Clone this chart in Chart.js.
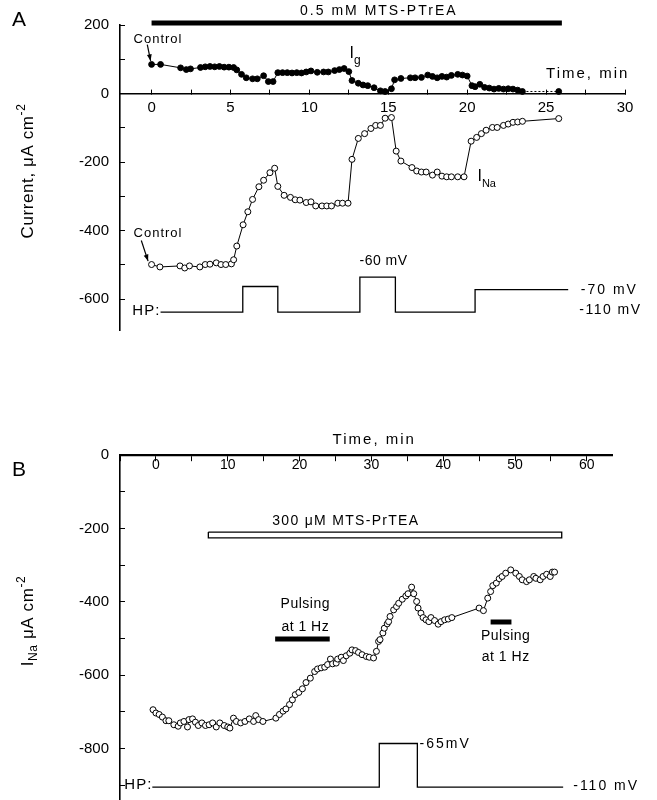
<!DOCTYPE html>
<html>
<head>
<meta charset="utf-8">
<script src="https://cdn.jsdelivr.net/npm/chart.js@4.4.1/dist/chart.umd.min.js"></script>
<style>
body{margin:0;background:#fff;overflow:hidden}
#wrap{position:relative;width:657px;height:800px;overflow:hidden}
canvas{position:absolute;left:0}
</style>
</head>
<body>
<div id="wrap">
<canvas id="panelA" width="657" height="400" style="top:0"></canvas>
<canvas id="panelB" width="657" height="440" style="top:400px"></canvas>
</div>
<script>
const FONT = '"Liberation Sans", Arial, Helvetica, sans-serif';

// panel A - gating current (filled) and INa (open), time in min
const igTime = [0, 0.57, 1.84, 2.2, 2.47, 3.1, 3.4, 3.7, 4.0, 4.3, 4.6, 4.9, 5.2, 5.4, 5.7, 6.0, 6.4, 6.7, 7.1, 7.4,
  7.7, 8.0, 8.3, 8.6, 8.9, 9.2, 9.5, 9.8, 10.1, 10.5, 10.9, 11.2, 11.6, 11.9, 12.2, 12.5, 12.7, 13.1, 13.4, 13.7,
  14.1, 14.5, 14.8, 15.2, 15.4, 15.8, 16.4, 16.7, 17.1, 17.5, 17.8, 18.1, 18.4, 18.7, 19.0, 19.4, 19.7, 20.0, 20.3, 20.5,
  20.8, 21.1, 21.4, 21.7, 22.0, 22.3, 22.6, 22.9, 23.2, 23.5, 25.8];
const igCurrent = [85, 85, 75, 70, 72, 76, 78, 79, 78, 79, 77, 77, 76, 69, 56, 46, 43, 43, 52, 35,
  35, 61, 61, 61, 60, 61, 60, 63, 66, 62, 63, 63, 67, 70, 73, 64, 38, 30, 25, 23,
  17, 8, 6, 14, 40, 44, 46, 46, 47, 54, 50, 46, 50, 48, 53, 56, 54, 51, 23, 20,
  27, 18, 16, 13, 15, 13, 14, 13, 10, 6, 6];

const naTimeA = [0, 0.53, 1.8, 2.1, 2.4, 3.06, 3.4, 3.7, 4.1, 4.4, 4.7, 5.06, 5.2, 5.4, 5.8, 6.1, 6.4, 6.8, 7.1, 7.5,
  7.8, 8.0, 8.4, 8.8, 9.1, 9.4, 9.8, 10.1, 10.4, 10.8, 11.1, 11.4, 11.8, 12.1, 12.45, 12.7, 13.1, 13.5, 13.9, 14.2,
  14.5, 14.8, 15.2, 15.5, 15.8, 16.5, 16.8, 17.1, 17.4, 17.8, 18.1, 18.4, 18.7, 19.0, 19.4, 19.8, 20.25, 20.6, 20.9, 21.2,
  21.6, 21.9, 22.3, 22.6, 22.9, 23.2, 23.5, 25.8];
const naCurrentA = [-499, -506, -503, -509, -503, -506, -499, -498, -494, -499, -499, -497, -485, -445, -383, -345, -309, -272, -253, -231,
  -218, -271, -297, -303, -310, -311, -318, -316, -328, -328, -328, -328, -320, -320, -320, -192, -131, -117, -102, -93,
  -93, -72, -70, -168, -197, -216, -226, -229, -229, -238, -229, -241, -243, -243, -243, -243, -139, -128, -117, -107,
  -99, -99, -93, -89, -84, -83, -81, -73];

// holding potential trace (drawn on the current axis)
const hpTimeA = [0.57, 5.78, 8.0, 13.2, 15.45, 20.5, 26.4];
const hpLevelA = [-638, -563, -638, -536, -638, -572, -572];
const mtsBarA = [0, 26, 206]; // from, to, level

const xTicksA = [0, 2.5, 5, 7.5, 10, 12.5, 15, 17.5, 20, 22.5, 25, 27.5, 30];
const yTicksA = [200, 100, 0, -100, -200, -300, -400, -500, -600];

// panel B
const naTimeB = [-0.4, 0, 0.45, 0.9, 1.4, 1.8, 2.5, 3.1, 3.4, 3.9,
  4.4, 4.6, 5.1, 5.5, 5.9, 6.4, 6.9, 7.4, 7.9, 8.4,
  8.9, 9.5, 10.0, 10.3, 10.8, 11.2, 11.8, 12.4, 13.0, 13.6,
  13.9, 14.3, 14.9, 16.7, 17.2, 17.7, 18.1, 18.6, 19.0, 19.4,
  19.9, 20.4, 20.9, 21.5, 22.1, 22.5, 23.0, 23.5, 23.9, 24.3,
  24.6, 25.1, 25.3, 25.8, 26.1, 26.5, 27.0, 27.3, 27.8, 28.2,
  28.7, 29.3, 29.7, 30.3, 30.7, 31.0, 31.2, 31.6, 31.8, 32.2,
  32.4, 32.6, 33.1, 33.5, 33.8, 34.3, 34.8, 35.1, 35.6, 35.9,
  36.3, 36.5, 36.9, 37.2, 37.6, 38.0, 38.3, 38.8, 39.3, 39.7,
  40.2, 40.7, 41.2, 45.0, 45.6, 46.2, 46.6, 46.9, 47.4, 47.8,
  48.2, 48.7, 49.4, 50.1, 50.6, 51.0, 51.6, 52.0, 52.6, 52.9,
  53.5, 53.9, 54.4, 54.9, 55.2, 55.5];
const naCurrentB = [-694, -703, -707, -714, -724, -724, -735, -739, -730, -726,
  -741, -721, -719, -728, -737, -730, -737, -735, -730, -741,
  -730, -737, -741, -744, -717, -726, -730, -726, -719, -726,
  -710, -721, -726, -717, -707, -698, -692, -680, -667, -653,
  -647, -637, -620, -608, -590, -583, -580, -578, -571, -556,
  -569, -567, -556, -551, -560, -547, -540, -531, -533, -538,
  -544, -549, -551, -553, -535, -508, -503, -485, -472, -460,
  -454, -440, -422, -413, -404, -393, -384, -378, -360, -378,
  -399, -417, -431, -443, -449, -454, -443, -451, -461, -454,
  -449, -447, -443, -417, -424, -390, -372, -356, -349, -337,
  -331, -322, -313, -322, -331, -340, -345, -340, -331, -336,
  -340, -331, -325, -331, -319, -319];

const hpTimeB = [-0.5, 31.1, 36.4, 56.7];
const hpLevelB = [-905, -786, -905, -905];
const mtsBoxB = [7.3, 56.5, -210, -226]; // from, to, top, bottom
const pulseBarsB = [[16.6, 24.2, -501], [46.6, 49.5, -455]];

const xTicksB = [-5, 0, 5, 10, 15, 20, 25, 30, 35, 40, 45, 50, 55, 60];
const yTicksB = [0, -100, -200, -300, -400, -500, -600, -700, -800, -900];

const pts = (xs, ys) => xs.map((x, i) => ({x: x, y: ys[i]}));

function drawRich(ctx, x, y, parts, align) {
  let w = 0;
  parts.forEach(p => { ctx.font = p[1] + 'px ' + FONT; w += ctx.measureText(p[0]).width; });
  let cx = align === 'center' ? x - w / 2 : (align === 'right' ? x - w : x);
  parts.forEach(p => {
    ctx.font = p[1] + 'px ' + FONT;
    ctx.fillText(p[0], cx, y + (p[2] || 0));
    cx += ctx.measureText(p[0]).width;
  });
}

// text, arrows, panel letter and axis title
const notesPlugin = {
  id: 'notes',
  afterDraw(chart, args, o) {
    const ctx = chart.ctx, sx = chart.scales.x, sy = chart.scales.y;
    ctx.save();
    ctx.fillStyle = '#000';
    ctx.strokeStyle = '#000';
    ctx.textBaseline = 'middle';
    ctx.textAlign = 'left';
    (o.texts || []).forEach(n => {
      ctx.letterSpacing = (n.sp || 0) + 'px';
      drawRich(ctx, sx.getPixelForValue(n.x), sy.getPixelForValue(n.y), n.parts, n.align || 'left');
    });
    ctx.letterSpacing = '0px';
    (o.arrows || []).forEach(a => {
      const x0 = sx.getPixelForValue(a[0]), y0 = sy.getPixelForValue(a[1]);
      const x1 = sx.getPixelForValue(a[2]), y1 = sy.getPixelForValue(a[3]);
      const ang = Math.atan2(y1 - y0, x1 - x0);
      ctx.lineWidth = 1.2;
      ctx.beginPath(); ctx.moveTo(x0, y0); ctx.lineTo(x1, y1); ctx.stroke();
      ctx.beginPath();
      ctx.moveTo(x1, y1);
      ctx.lineTo(x1 - 7 * Math.cos(ang - 0.35), y1 - 7 * Math.sin(ang - 0.35));
      ctx.lineTo(x1 - 7 * Math.cos(ang + 0.35), y1 - 7 * Math.sin(ang + 0.35));
      ctx.closePath(); ctx.fill();
    });
    if (o.letter) {
      ctx.font = '21px ' + FONT;
      ctx.fillText(o.letter[0], o.letter[1], o.letter[2]);
    }
    if (o.yTitle) {
      ctx.translate(o.yTitle.x, o.yTitle.y);
      ctx.rotate(-Math.PI / 2);
      ctx.letterSpacing = (o.yTitle.sp || 0) + 'px';
      drawRich(ctx, 0, 0, o.yTitle.parts, 'center');
    }
    ctx.restore();
  }
};

function yAxis(min, max, ticks, width) {
  return {
    type: 'linear', min: min, max: max,
    afterFit: s => { s.width = width; },
    afterBuildTicks: s => { s.ticks = ticks.map(v => ({value: v})); },
    grid: {drawOnChartArea: false, tickLength: -5, color: '#000', lineWidth: 1},
    border: {color: '#000', width: 1.6},
    ticks: {
      autoSkip: false, padding: 16, color: '#000', font: {family: FONT, size: 15},
      callback: v => (v % 200 === 0 ? String(v) : '')
    }
  };
}

function xAxis(min, max, ticks, tickLen, pad, size, every, bw) {
  return {
    type: 'linear', min: min, max: max, position: {y: 0},
    afterFit: s => { s.height = 0; },
    afterBuildTicks: s => { s.ticks = ticks.map(v => ({value: v})); },
    grid: {drawOnChartArea: false, tickLength: tickLen, color: '#000', lineWidth: 1},
    border: {color: '#000', width: bw},
    ticks: {
      autoSkip: false, maxRotation: 0, padding: pad, color: '#000', font: {family: FONT, size: size},
      callback: v => (v % every === 0 ? String(v) : '')
    }
  };
}

const openPts = {pointRadius: 3, pointBackgroundColor: '#fff', pointBorderColor: '#000', pointBorderWidth: 1};
const plainLine = {borderColor: '#000', pointRadius: 0, tension: 0, fill: false};

new Chart(document.getElementById('panelA'), {
  type: 'line',
  data: {
    datasets: [
      Object.assign({label: 'Ig', data: pts(igTime, igCurrent), borderColor: '#000', borderWidth: 1, tension: 0,
        pointRadius: 2.9, pointBackgroundColor: '#000', pointBorderColor: '#000', pointBorderWidth: 1,
        segment: {borderDash: c => (c.p1DataIndex === igTime.length - 1 ? [2, 2] : undefined)}}),
      Object.assign({label: 'INa', data: pts(naTimeA, naCurrentA), borderColor: '#000', borderWidth: 1, tension: 0}, openPts),
      Object.assign({label: 'HP', data: pts(hpTimeA, hpLevelA), borderWidth: 1.3, stepped: 'before'}, plainLine),
      Object.assign({label: '0.5 mM MTS-PTrEA', data: [{x: mtsBarA[0], y: mtsBarA[2]}, {x: mtsBarA[1], y: mtsBarA[2]}],
        borderWidth: 5, clip: false}, plainLine)
    ]
  },
  options: {
    responsive: false,
    animation: false,
    layout: {padding: {top: 22, right: 32, bottom: 70, left: 0}},
    plugins: {
      legend: {display: false},
      tooltip: {enabled: false},
      notes: {
        letter: ['A', 12, 20],
        yTitle: {x: 28, y: 171, sp: 0.6, parts: [['Current, \u03bcA cm', 17], ['-2', 12, -6]]},
        texts: [
          {x: 14.4, y: 240, align: 'center', sp: 2, parts: [['0.5 mM MTS-PTrEA', 14]]},
          {x: -1.14, y: 158, sp: 1, parts: [['Control', 13]]},
          {x: 12.55, y: 116, parts: [['I', 16], ['g', 12, 7]]},
          {x: 25.0, y: 58, sp: 2, parts: [['Time, min', 15]]},
          {x: 20.65, y: -243, parts: [['I', 16], ['Na', 11, 7]]},
          {x: -1.14, y: -409, sp: 1, parts: [['Control', 13]]},
          {x: 14.7, y: -490, align: 'center', sp: 0.5, parts: [['-60 mV', 14]]},
          {x: 27.2, y: -574, sp: 2, parts: [['-70 mV', 14]]},
          {x: 27.1, y: -632, sp: 1.5, parts: [['-110 mV', 14]]},
          {x: -1.22, y: -635, sp: 1, parts: [['HP:', 15]]}
        ],
        arrows: [[-0.27, 143, -0.06, 95], [-0.65, -429, -0.22, -489]]
      }
    },
    scales: {
      x: xAxis(-2, 30, xTicksA, -5, 10.5, 15, 5, 1.6),
      y: yAxis(-690, 200, yTicksA, 120)
    }
  },
  plugins: [notesPlugin]
});

const boxB = [
  {x: mtsBoxB[0], y: mtsBoxB[2]}, {x: mtsBoxB[1], y: mtsBoxB[2]},
  {x: mtsBoxB[1], y: mtsBoxB[3]}, {x: mtsBoxB[0], y: mtsBoxB[3]}, {x: mtsBoxB[0], y: mtsBoxB[2]}
];

new Chart(document.getElementById('panelB'), {
  type: 'line',
  data: {
    datasets: [
      Object.assign({label: 'INa', data: pts(naTimeB, naCurrentB), borderColor: '#000', borderWidth: 1, tension: 0}, openPts),
      Object.assign({label: 'HP', data: pts(hpTimeB, hpLevelB), borderWidth: 1.3, stepped: 'before'}, plainLine),
      Object.assign({label: '300 uM MTS-PrTEA', data: boxB, borderWidth: 1.3}, plainLine)
    ].concat(pulseBarsB.map(b => Object.assign({label: 'Pulsing at 1 Hz',
      data: [{x: b[0], y: b[2]}, {x: b[1], y: b[2]}], borderWidth: 5}, plainLine)))
  },
  options: {
    responsive: false,
    animation: false,
    layout: {padding: {top: 55, right: 45, bottom: 40, left: 0}},
    plugins: {
      legend: {display: false},
      tooltip: {enabled: false},
      notes: {
        letter: ['B', 12, 70],
        yTitle: {x: 28, y: 221, sp: 0.6, parts: [['I', 17], ['Na', 12, 6], [' \u03bcA cm', 17], ['-2', 12, -6]]},
        texts: [
          {x: 24.6, y: 41, sp: 2, parts: [['Time, min', 15]]},
          {x: 16.2, y: -180, sp: 1.3, parts: [['300 \u03bcM MTS-PrTEA', 14]]},
          {x: 20.8, y: -405, align: 'center', sp: 0.5, parts: [['Pulsing', 14]]},
          {x: 20.8, y: -468, align: 'center', sp: 0.5, parts: [['at 1 Hz', 14]]},
          {x: 48.7, y: -493, align: 'center', sp: 0.5, parts: [['Pulsing', 14]]},
          {x: 48.7, y: -552, align: 'center', sp: 0.5, parts: [['at 1 Hz', 14]]},
          {x: 36.7, y: -789, sp: 2, parts: [['-65mV', 14]]},
          {x: 58.1, y: -903, sp: 2, parts: [['-110 mV', 14]]},
          {x: -4.4, y: -900, sp: 1, parts: [['HP:', 15]]}
        ]
      }
    },
    scales: {
      x: xAxis(-5, 63.5, xTicksB, 5, -3.5, 14, 10, 2.2),
      y: yAxis(-940, 0, yTicksB, 120)
    }
  },
  plugins: [notesPlugin]
});
</script>
</body>
</html>
